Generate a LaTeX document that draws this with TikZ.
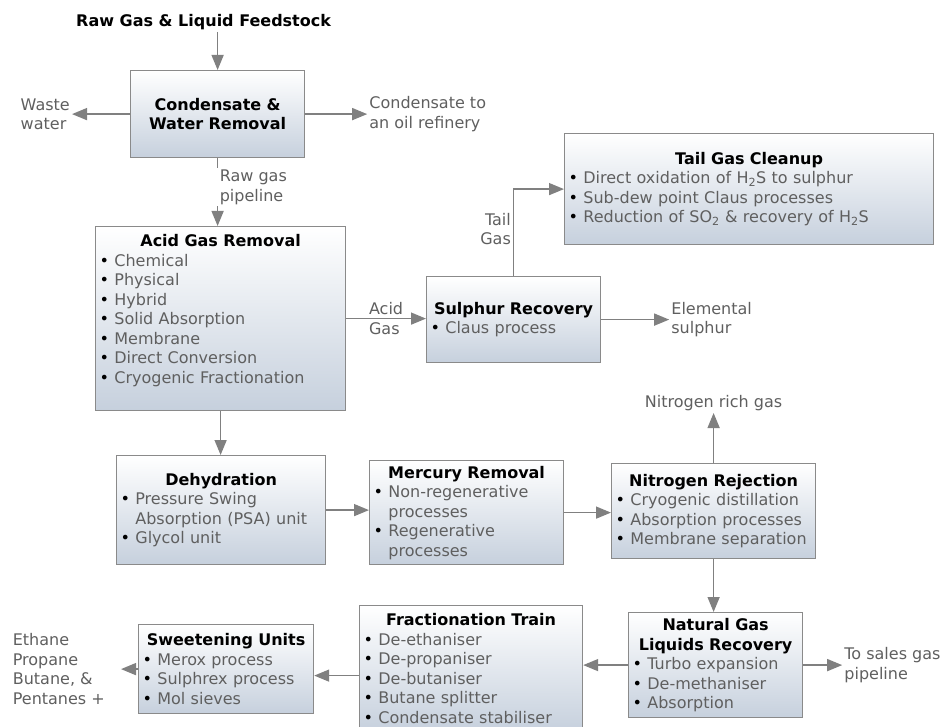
\documentclass[tikz,border=0pt]{standalone}
\usepackage{fontspec}
\setmainfont{DejaVu Sans}
\usetikzlibrary{positioning, arrows.meta}

\definecolor{boxline}{RGB}{138,138,138}
\definecolor{boxfill}{RGB}{198,208,221}
\definecolor{linegray}{RGB}{128,128,128}
\definecolor{txtgray}{RGB}{95,95,95}

\newsavebox{\bulbox}
\newcommand{\hd}[1]{{\noindent\centering\color{black}\bfseries #1\par}}
\newcommand{\bul}[1]{\par\sbox{\bulbox}{\textcolor{black}{\textbullet}\ }\hangindent=\wd\bulbox \hangafter=1 \noindent\usebox{\bulbox}#1\par}

\begin{document}
\begin{tikzpicture}[
    x=1pt, y=-1pt,
    unit/.style={rectangle, draw=boxline, line width=1.2pt, top color=white, bottom color=boxfill, anchor=north west, inner xsep=4pt, inner ysep=2pt, align=left, text=txtgray, font=\fontsize{16}{19.5}\selectfont},
    flow/.style={draw=linegray, line width=1.5pt, -{Triangle[length=15pt, width=12pt]}},
    lbl/.style={text=txtgray, inner sep=2pt, align=left, font=\fontsize{16}{19.5}\selectfont},
]
\useasboundingbox (0,0) rectangle (948,727);

% Nodes
\node [unit, text width=166pt, minimum height=87pt, align=center] (cond) at (130,70) {{\color{black}\bfseries Condensate \&\\Water Removal}};
\node [unit, text width=242pt, minimum height=184pt] (acid) at (95,226) {\hd{Acid Gas Removal}\bul{Chemical}\bul{Physical}\bul{Hybrid}\bul{Solid Absorption}\bul{Membrane}\bul{Direct Conversion}\bul{Cryogenic Fractionation}\mbox{}};
\node [unit, text width=166pt, minimum height=86pt] (sulph) at (426,276) {\hd{Sulphur Recovery}\bul{Claus process}};
\node [unit, text width=361pt, minimum height=111pt] (tail) at (564,133) {\hd{Tail Gas Cleanup}\bul{Direct oxidation of H\textsubscript{2}S to sulphur}\bul{Sub-dew point Claus processes}\bul{Reduction of SO\textsubscript{2} \& recovery of H\textsubscript{2}S}};
\node [unit, text width=201pt, minimum height=109pt] (dehyd) at (116,455) {\hd{Dehydration}\bul{Pressure Swing\newline Absorption (PSA) unit}\bul{Glycol unit}};
\node [unit, text width=186pt, minimum height=104pt] (merc) at (369,460) {\hd{Mercury Removal}\bul{Non-regenerative\newline processes}\bul{Regenerative\newline processes}};
\node [unit, text width=196pt, minimum height=95pt] (nitro) at (611,463) {\hd{Nitrogen Rejection}\bul{Cryogenic distillation}\bul{Absorption processes}\bul{Membrane separation}};
\node [unit, text width=166pt, minimum height=105pt] (ngl) at (628,612) {\hd{Natural Gas\\Liquids Recovery}\bul{Turbo expansion}\bul{De-methaniser}\bul{Absorption}};
\node [unit, text width=215pt, minimum height=126pt] (fract) at (359,605) {\hd{Fractionation Train}\bul{De-ethaniser}\bul{De-propaniser}\bul{De-butaniser}\bul{Butane splitter}\bul{Condensate stabiliser}};
\node [unit, text width=167pt, minimum height=89pt] (sweet) at (138,624) {\hd{Sweetening Units}\bul{Merox process}\bul{Sulphrex process}\bul{Mol sieves}};

\node [lbl, text=black, font=\fontsize{16}{19.5}\selectfont\bfseries, above=38pt of cond, xshift=-14pt] (feed) {Raw Gas \& Liquid Feedstock};
\node [lbl, left=58pt of cond] (waste) {Waste\\water};
\node [lbl, right=62pt of cond] (refin) {Condensate to\\an oil refinery};
\node [lbl, right=68pt of sulph] (elem) {Elemental\\sulphur};
\node [lbl, above=50pt of nitro] (nrich) {Nitrogen rich gas};
\node [lbl, right=39pt of ngl] (sales) {To sales gas\\pipeline};
\node [lbl, left=31pt of sweet] (prod) {Ethane\\Propane\\Butane, \&\\Pentanes +};

% Lines
\draw [flow] (feed.south -| cond.north) -- (cond.north);
\draw [flow] (cond.west) -- (waste.east);
\draw [flow] (cond.east) -- (refin.west);
\draw [flow] (cond.south) -- (cond.south |- acid.north);
\node [lbl, fill=white, anchor=west, inner xsep=5pt, xshift=-3pt, yshift=-29pt] (pipe) at (cond.south) {Raw gas\\pipeline};
\draw [flow] (acid.east) -- node [lbl, midway] (acidlbl) {Acid\\Gas} (acid.east -| sulph.west);
\draw [flow] (sulph.east) -- (elem.west);
\draw [flow] (sulph.north) |- node [lbl, pos=0.27, left, align=right] (taillbl) {Tail\\Gas} (tail.west);
\draw [flow] (acid.south) -- (acid.south |- dehyd.north);
\draw [flow] (dehyd.east) -- (dehyd.east -| merc.west);
\draw [flow] (merc.east) -- (merc.east -| nitro.west);
\draw [flow] (nitro.north) -- (nrich.south);
\draw [flow] (nitro.south) -- (nitro.south |- ngl.north);
\draw [flow] (ngl.east) -- (sales.west);
\draw [flow] (ngl.west) -- (ngl.west -| fract.east);
\draw [flow] ([yshift=-7pt]fract.west) -- ([yshift=-7pt]fract.west -| sweet.east);
\draw [flow, shorten >=14pt] (sweet.west) -- (sweet.west -| prod.east);

\end{tikzpicture}
\end{document}
